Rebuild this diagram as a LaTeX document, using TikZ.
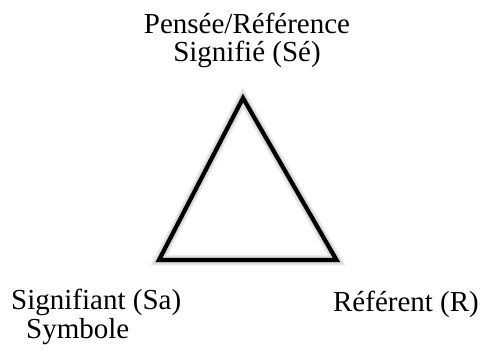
\documentclass[tikz,border=0pt]{standalone}
\usepackage{fontspec}
\setmainfont{Liberation Serif}

\begin{document}
\begin{tikzpicture}[x=1pt, y=-1pt, line cap=round, line join=miter,
    lbl/.style={inner sep=0pt, font=\fontsize{29}{28.5}\selectfont},
    side/.style={line width=4.2pt, draw=black},
    halo/.style={line width=#1, draw=black!40, opacity=0.14}]

  %% sommets du triangle
  \coordinate (se) at (243.0,98.0);
  \coordinate (sa) at (159.0,260.0);
  \coordinate (r)  at (336.5,260.0);

  %% ombre floue (quelques traits gris décalés)
  \foreach \w in {11pt,9pt,7pt,5pt}
    \draw[halo=\w, shift={(3,4)}] (se) -- (sa) -- (r) -- cycle;

  %% triangle
  \draw[side] (se) -- (sa) -- (r) -- cycle;

  %% libellés
  \node[lbl, align=center, anchor=base] (top) at (247.0,62.0) {Pensée/Référence\\Signifié (Sé)};
  \node[lbl, align=left, anchor=base west] (left) at (11.0,338.0) {Signifiant (Sa)\\\hspace{15pt}Symbole};
  \node[lbl, anchor=base] (right) at (406.0,311.0) {Référent (R)};

  \pgfresetboundingbox
  \path[use as bounding box] (0,0) rectangle (482,350);
\end{tikzpicture}
\end{document}
